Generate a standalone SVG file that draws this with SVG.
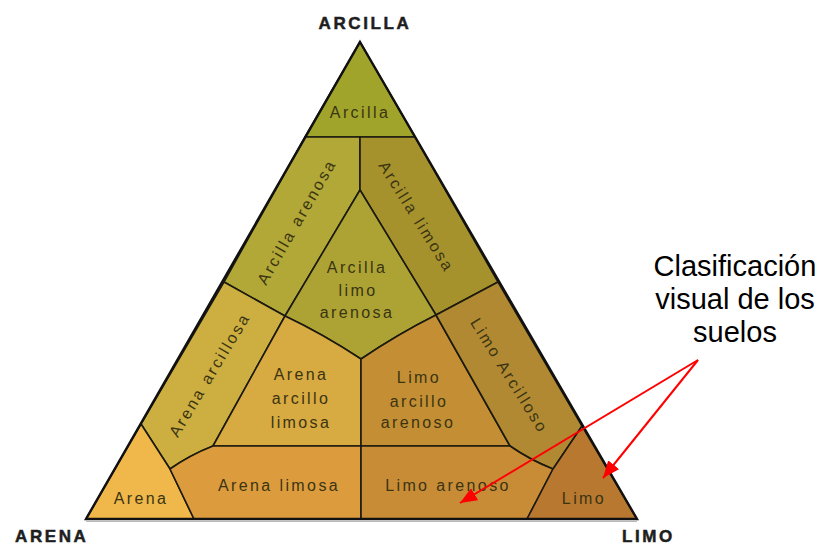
<svg xmlns="http://www.w3.org/2000/svg" width="820" height="547" viewBox="0 0 820 547">
<defs>
<style>
.r{stroke:#1c1a10;stroke-width:1.6;stroke-linejoin:round}
.t{font-family:"Liberation Sans",Arial,sans-serif;font-size:16px;letter-spacing:2.4px;fill:#3a3412;text-anchor:middle}
.h{font-family:"Liberation Sans",Arial,sans-serif;font-size:17px;font-weight:bold;letter-spacing:2.6px;fill:#1e1e1e;stroke:#1e1e1e;stroke-width:0.5}
.c{font-family:"Liberation Sans",Arial,sans-serif;font-size:29px;fill:#000;text-anchor:middle}
.a{stroke:#ff0000;stroke-width:2;fill:none;marker-end:url(#ah)}
</style>
<marker id="ah" markerUnits="userSpaceOnUse" markerWidth="18" markerHeight="14" refX="17" refY="7" orient="auto">
<path d="M0,0 L17,7 L0,14 z" fill="#ff0000"/>
</marker>
</defs>
<rect width="820" height="547" fill="#ffffff"/>

<g id="arcilla">
<polygon class="r" fill="#a1a42b" points="360,42 415,137 305,137"/>
<text class="t" x="360" y="118">Arcilla</text>
</g>
<g id="arcilla-arenosa">
<polygon class="r" fill="#b2a837" points="305,137 360,137 360,190 285,316 224,282"/>
<text class="t" transform="translate(297,222) rotate(-60)" x="0" y="5">Arcilla arenosa</text>
</g>
<g id="arcilla-limosa">
<polygon class="r" fill="#a6922d" points="360,137 415,137 498,282 436,315 360,190"/>
<text class="t" transform="translate(416,217) rotate(58)" x="0" y="5">Arcilla limosa</text>
</g>
<g id="arcilla-limo-arenosa">
<path class="r" fill="#aca334" d="M360,190 L436,315 Q398,334 361,359 Q323,334 285,316 Z"/>
<text class="t" x="357" y="273">Arcilla</text>
<text class="t" x="358" y="296">limo</text>
<text class="t" x="357" y="318">arenosa</text>
</g>
<g id="arena-arcillosa">
<path class="r" fill="#cdaf41" d="M224,282 L285,316 L213,446 Q190,455 170,469 L141,424 Z"/>
<text class="t" transform="translate(210,375) rotate(-59)" x="0" y="5">Arena arcillosa</text>
</g>
<g id="arena-arcillo-limosa">
<path class="r" fill="#d8aa42" d="M285,316 Q323,334 361,359 L361,446 L213,446 Z"/>
<text class="t" x="301" y="380">Arena</text>
<text class="t" x="301" y="404">arcillo</text>
<text class="t" x="301" y="428">limosa</text>
</g>
<g id="limo-arcillo-arenoso">
<path class="r" fill="#c48f34" d="M361,359 Q398,334 436,315 L510,446 L361,446 Z"/>
<text class="t" x="419" y="383">Limo</text>
<text class="t" x="419" y="407">arcillo</text>
<text class="t" x="418" y="428">arenoso</text>
</g>
<g id="limo-arcilloso">
<path class="r" fill="#b08932" d="M498,282 L582,426 L553,469 Q530,460 510,446 L436,315 Z"/>
<text class="t" transform="translate(509,376) rotate(58)" x="0" y="5">Limo Arcilloso</text>
</g>
<g id="arena">
<polygon class="r" fill="#f0b84a" points="141,424 170,469 194,519 86,519"/>
<text class="t" x="141" y="504">Arena</text>
</g>
<g id="arena-limosa">
<path class="r" fill="#dc9c3e" d="M170,469 Q190,455 213,446 L361,446 L361,519 L194,519 Z"/>
<text class="t" x="279" y="491">Arena limosa</text>
</g>
<g id="limo-arenoso">
<path class="r" fill="#c88c37" d="M361,446 L510,446 Q530,460 553,469 L527,519 L361,519 Z"/>
<text class="t" x="448" y="491">Limo arenoso</text>
</g>
<g id="limo">
<polygon class="r" fill="#b87830" points="582,426 637,519 527,519 553,469"/>
<text class="t" x="584" y="504">Limo</text>
</g>
<polygon points="360,42 637,519 86,519" fill="none" stroke="#111" stroke-width="2.4" stroke-linejoin="miter"/>
<line x1="86" y1="521.5" x2="637" y2="521.5" stroke="#bbbbbb" stroke-width="1"/>

<g id="titulos">
<text class="h" x="365" y="29" text-anchor="middle">ARCILLA</text>
<text class="h" x="15" y="542">ARENA</text>
<text class="h" x="622" y="542">LIMO</text>
</g>

<g id="nota">
<text class="c" x="735" y="276">Clasificación</text>
<text class="c" x="735" y="309">visual de los</text>
<text class="c" x="735" y="342">suelos</text>
</g>

<g id="conectores">
<line class="a" x1="698" y1="360" x2="460" y2="503"/>
<line class="a" x1="698" y1="360" x2="603" y2="478"/>
</g>
</svg>
